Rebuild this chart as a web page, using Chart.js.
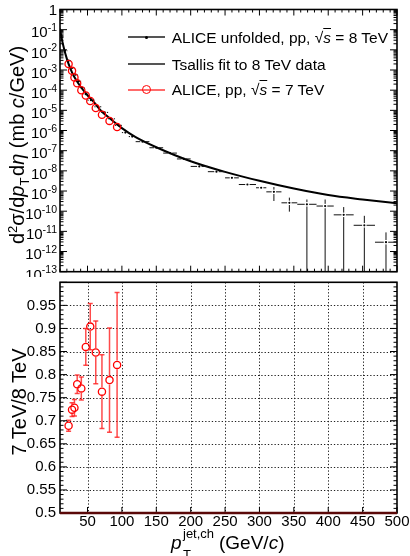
<!DOCTYPE html>
<html><head><meta charset="utf-8">
<script src="https://cdn.jsdelivr.net/npm/chart.js@4.4.0/dist/chart.umd.min.js"></script>
<style>
html,body{margin:0;padding:0;background:#fff;}
#wrap{position:relative;width:410px;height:556px;overflow:hidden;font-family:'Liberation Sans',Arial,Helvetica,sans-serif;color:#000;}
canvas{position:absolute;left:0;}
#c1{top:0;}
#c2{top:277px;}
.abs{position:absolute;white-space:nowrap;}
.lgt{font-size:15.5px;line-height:15.5px;}
.rot{transform:translate(-50%,-50%) rotate(-90deg);line-height:20px;}
.ov{text-decoration:overline;font-style:italic;}
</style></head>
<body><div id="wrap">
<canvas id="c1" width="410" height="277" style="width:410px;height:277px"></canvas>
<canvas id="c2" width="410" height="279" style="width:410px;height:279px"></canvas>

<!-- legend -->
<div class="abs" style="left:128px;top:36.3px;width:37px;height:2px;background:#555"></div>
<div class="abs" style="left:145px;top:35.8px;width:3px;height:3px;background:#000;border-radius:50%"></div>
<div class="abs lgt" style="left:171.7px;top:30.2px">ALICE unfolded, pp, √<span class="ov">s</span> = 8 TeV</div>
<div class="abs" style="left:128px;top:63px;width:37px;height:2px;background:#555"></div>
<div class="abs lgt" style="left:171.7px;top:56.6px">Tsallis fit to 8 TeV data</div>
<div class="abs" style="left:128px;top:89px;width:37px;height:2px;background:#ff6b6b"></div>
<div class="abs" style="left:141.6px;top:84.9px;width:7.4px;height:7.4px;border:1.3px solid #ff0000;border-radius:50%"></div>
<div class="abs lgt" style="left:171.7px;top:82.1px">ALICE, pp, √<span class="ov">s</span> = 7 TeV</div>

<!-- axis titles -->
<div class="abs rot" style="left:19px;top:145px;font-size:20px">d<sup style="font-size:13px;vertical-align:7px">2</sup>σ/d<i>p</i><sub style="font-size:13px;vertical-align:-5px">T</sub>&#8202;d<i>η</i> (mb <i>c</i>/GeV)</div>
<div class="abs rot" style="left:19px;top:402px;font-size:20px">7 TeV/8 TeV</div>
<div class="abs" style="left:171px;top:533px;font-size:19px;line-height:19px"><i>p</i></div>
<div class="abs" style="left:183px;top:527px;font-size:13px;line-height:13px">jet,ch</div>
<div class="abs" style="left:183px;top:548px;font-size:13px;line-height:13px">T</div>
<div class="abs" style="left:219px;top:533px;font-size:19px;line-height:19px">(GeV/<i>c</i>)</div>
</div>
<script>
// ---------------- data ----------------
// Tsallis fit curve
const tsallisPt  = [10, 12, 15, 20, 25, 30, 40, 50, 60, 70, 80, 100, 120, 150, 200, 250, 300, 350, 400, 450, 500];
const tsallisVal = [1.12e-1, 4.47e-2, 1.51e-2, 3.55e-3, 1.2e-3, 5.0e-4, 1.48e-4, 5.6e-5, 2.4e-5, 9.3e-6, 4.7e-6, 1.32e-6, 4.7e-7, 1.48e-7, 3.0e-8, 8.9e-9, 3.2e-9, 1.32e-9, 6.3e-10, 3.8e-10, 2.45e-10];

// ALICE unfolded 8 TeV spectrum
const pt8      = [12.5, 17.5, 22.5, 27.5, 32.5, 37.5, 42.5, 47.5, 55, 65, 75, 85, 95, 105, 115, 130, 150, 170, 190, 212.5, 237.5, 260, 282.5, 302.5, 321, 343.5, 369, 395.5, 422.5, 452.5, 484];
const binHalf8 = [2.5, 2.5, 2.5, 2.5, 2.5, 2.5, 2.5, 2.5, 5, 5, 5, 5, 5, 5, 5, 10, 10, 10, 10, 12.5, 12.5, 10, 12.5, 7.5, 11, 11.5, 14, 12.5, 14.5, 15.5, 16];
const val8     = [4.5e-2, 9e-3, 2.9e-3, 1.26e-3, 5.9e-4, 2.8e-4, 1.3e-4, 6.3e-5, 3.2e-5, 1.5e-5, 7.9e-6, 3.8e-6, 1.8e-6, 7.9e-7, 5.0e-7, 2.8e-7, 1.4e-7, 7.6e-8, 3.9e-8, 1.66e-8, 9.1e-9, 4.5e-9, 2.1e-9, 1.45e-9, 9.1e-10, 2.6e-10, 2.2e-10, 1.8e-10, 6.6e-11, 2.0e-11, 2.9e-12];
const errUp8   = [0, 0, 0, 0, 0, 0, 0, 0, 0, 0, 0, 0, 0, 0, 0, 0, 0, 0, 0, 0, 0, 0, 0, 0, 6.7e-10, 2.1e-10, 1.6e-10, 2.0e-10, 9.4e-11, 3.9e-11, 6.0e-12];
const errDown8 = [0, 0, 0, 0, 0, 0, 0, 0, 0, 0, 0, 0, 0, 0, 0, 0, 0, 0, 0, 0, 0, 0, 0, 0, 5.9e-10, 1.65e-10, 2.2e-10, 1.8e-10, 6.6e-11, 2.0e-11, 2.9e-12];

// ALICE 7 TeV spectrum and ratio 7/8 TeV
const pt7       = [22.5, 27.5, 31, 35, 41, 47.5, 54, 62, 71, 82, 93];
const val7      = [2.0e-3, 9.1e-4, 4.3e-4, 2.2e-4, 1.0e-4, 5.4e-5, 2.9e-5, 1.3e-5, 6.0e-6, 3.0e-6, 1.5e-6];
const ratio     = [0.689, 0.724, 0.728, 0.779, 0.770, 0.860, 0.904, 0.848, 0.763, 0.788, 0.821];
const ratioErr  = [0.012, 0.015, 0.018, 0.020, 0.025, 0.040, 0.050, 0.068, 0.080, 0.113, 0.157];

// ticks
const xTicks       = [50, 100, 150, 200, 250, 300, 350, 400, 450, 500];
const xTickLabels  = ['50', '100', '150', '200', '250', '300', '350', '400', '450', '500'];
const yLogTicks    = [1, 1e-1, 1e-2, 1e-3, 1e-4, 1e-5, 1e-6, 1e-7, 1e-8, 1e-9, 1e-10, 1e-11, 1e-12, 1e-13];
const yLogExp      = ['', '-1', '-2', '-3', '-4', '-5', '-6', '-7', '-8', '-9', '-10', '-11', '-12', '-13'];
const yLogLabels   = ['1', '10⁻¹', '10⁻²', '10⁻³', '10⁻⁴', '10⁻⁵', '10⁻⁶', '10⁻⁷', '10⁻⁸', '10⁻⁹', '10⁻¹⁰', '10⁻¹¹', '10⁻¹²', '10⁻¹³'];
const ratioTicks   = [0.5, 0.55, 0.6, 0.65, 0.7, 0.75, 0.8, 0.85, 0.9, 0.95];
const ratioLabels  = ['0.5', '0.55', '0.6', '0.65', '0.7', '0.75', '0.8', '0.85', '0.9', '0.95'];

const FONT = "'Liberation Sans', Arial, Helvetica, sans-serif";

// ---------------- plugins ----------------
function seg(ctx, x1, y1, x2, y2) { ctx.beginPath(); ctx.moveTo(x1, y1); ctx.lineTo(x2, y2); ctx.stroke(); }

const errPlugin = {
  id: 'errBars',
  afterDatasetsDraw(chart) {
    const { ctx, chartArea: a } = chart;
    const xs = chart.scales.x, ys = chart.scales.y;
    chart.data.datasets.forEach((ds) => {
      const e = ds.err;
      if (!e) return;
      ctx.save();
      ctx.beginPath(); ctx.rect(a.left, a.top, a.right - a.left, a.bottom - a.top); ctx.clip();
      ctx.strokeStyle = e.color; ctx.lineWidth = e.width;
      ds.data.forEach((p, j) => {
        const px = xs.getPixelForValue(p.x), py = ys.getPixelForValue(p.y);
        const g = e.gap;
        if (e.xHalf) {
          const xl = xs.getPixelForValue(p.x - e.xHalf[j]), xr = xs.getPixelForValue(p.x + e.xHalf[j]);
          seg(ctx, xl, py, px - g, py); seg(ctx, px + g, py, xr, py);
        }
        if (e.up && e.up[j] > 0) {
          const pu = ys.getPixelForValue(p.y + e.up[j]);
          if (py - pu > g) seg(ctx, px, py - g, px, pu);
          if (e.cap) seg(ctx, px - e.cap, pu, px + e.cap, pu);
        }
        if (e.down && e.down[j] > 0) {
          const lo = p.y - e.down[j];
          const pd = (lo <= ys.min) ? a.bottom : ys.getPixelForValue(lo);
          if (pd - py > g) seg(ctx, px, py + g, px, pd);
          if (e.cap && lo > ys.min) seg(ctx, px - e.cap, pd, px + e.cap, pd);
        }
      });
      ctx.restore();
    });
  }
};

const framePlugin = {
  id: 'rootFrame',
  beforeDatasetsDraw(chart, args, o) {
    if (!o.grid) return;
    const { ctx, chartArea: a, scales } = chart;
    ctx.save();
    ctx.strokeStyle = '#222'; ctx.lineWidth = 1; ctx.setLineDash([1.3, 2]);
    scales.x.ticks.forEach(t => { const px = Math.round(scales.x.getPixelForValue(t.value)) + 0.5; if (px < a.right - 1) seg(ctx, px, a.top, px, a.bottom); });
    scales.y.ticks.forEach(t => { const py = Math.round(scales.y.getPixelForValue(t.value)) + 0.5; if (py < a.bottom - 1) seg(ctx, a.left, py, a.right, py); });
    ctx.restore();
  },
  afterDraw(chart, args, o) {
    const { ctx, chartArea: a, scales } = chart;
    const xs = scales.x, ys = scales.y;
    ctx.save();
    ctx.strokeStyle = '#000'; ctx.lineWidth = 1;
    // x ticks
    for (let v = 10; v <= 500.001; v += 10) {
      const major = Math.abs(v % 50) < 1e-6;
      if (!major && !o.xMinor) continue;
      const L = major ? 6 : 3;
      const px = xs.getPixelForValue(v);
      if (o.xBottom) seg(ctx, px, a.bottom, px, a.bottom - L);
      if (o.xTop) seg(ctx, px, a.top, px, a.top + L);
    }
    // y ticks
    const yt = [];
    if (o.log) {
      for (let e = -13; e <= 0; e++) {
        yt.push([Math.pow(10, e), true]);
        if (e < 0) for (let k = 2; k <= 9; k++) yt.push([k * Math.pow(10, e), false]);
      }
    } else {
      for (let i = 0; i <= 50; i++) yt.push([0.5 + i * 0.01, i % 5 === 0]);
    }
    yt.forEach(([v, major]) => {
      const py = ys.getPixelForValue(v);
      if (py < a.top - 0.5 || py > a.bottom + 0.5) return;
      const L = major ? 7 : 3.5;
      seg(ctx, a.left, py, a.left + L, py);
      seg(ctx, a.right, py, a.right - L, py);
    });
    // power-of-ten tick labels with raised exponent
    if (o.log) {
      ctx.fillStyle = '#000';
      ctx.textAlign = 'right'; ctx.textBaseline = 'alphabetic';
      ys.ticks.forEach(t => {
        const i = yLogTicks.findIndex(v => Math.abs(Math.log10(v) - Math.log10(t.value)) < 1e-6);
        if (i < 0) return;
        const py = ys.getPixelForValue(t.value);
        const xr = a.left - 3;
        const ex = yLogExp[i];
        if (!ex) { ctx.font = '15px ' + FONT; ctx.fillText('1', xr, py + 5.4); return; }
        ctx.font = '10.5px ' + FONT;
        const w = ctx.measureText(ex).width;
        ctx.fillText(ex, xr, py + 1.6);
        ctx.font = '15px ' + FONT;
        ctx.fillText('10', xr - w, py + 7.8);
      });
    }
    // frame
    ctx.lineWidth = 1.6;
    ctx.strokeRect(a.left, a.top, a.right - a.left, a.bottom - a.top);
    if (o.bottomColor) { ctx.strokeStyle = o.bottomColor; ctx.lineWidth = 2.5; seg(ctx, a.left, a.bottom, a.right, a.bottom); }
    ctx.restore();
  }
};

Chart.defaults.font.family = FONT;
Chart.defaults.color = '#000';

function fixY(width) { return s => { s.width = width; s.paddingTop = 0; s.paddingBottom = 0; s.paddingLeft = 0; s.paddingRight = 0; }; }

// ---------------- top chart ----------------
new Chart(document.getElementById('c1'), {
  type: 'scatter',
  data: {
    datasets: [
      {
        label: 'ALICE, pp, √s = 7 TeV',
        data: pt7.map((x, i) => ({ x, y: val7[i] })),
        pointStyle: 'circle', pointRadius: 3.6, borderColor: '#ff0000', backgroundColor: 'rgba(0,0,0,0)', borderWidth: 1.3
      },
      {
        label: 'ALICE unfolded, pp, √s = 8 TeV',
        data: pt8.map((x, i) => ({ x, y: val8[i] })),
        pointStyle: 'circle', pointRadius: 1.1, borderWidth: 0, backgroundColor: '#000',
        err: { xHalf: binHalf8, up: errUp8, down: errDown8, color: '#111', width: 1, gap: 2.2, cap: 0 }
      },
      {
        type: 'line',
        label: 'Tsallis fit to 8 TeV data',
        data: tsallisPt.map((x, i) => ({ x, y: tsallisVal[i] })),
        borderColor: '#000', borderWidth: 2, pointRadius: 0, fill: false, cubicInterpolationMode: 'monotone'
      }
    ]
  },
  options: {
    responsive: false, animation: false, events: [],
    layout: { padding: { left: 0, right: 13, top: 9.5, bottom: 1.5 } },
    plugins: { legend: { display: false }, tooltip: { enabled: false },
      rootFrame: { log: true, xMinor: true, xTop: true, xBottom: true } },
    scales: {
      x: { type: 'linear', min: 10, max: 500, display: false },
      y: {
        type: 'logarithmic', min: 1e-13, max: 1,
        afterBuildTicks: s => { s.ticks = yLogTicks.map(v => ({ value: v, major: true })); },
        afterFit: fixY(60),
        grid: { display: false, drawTicks: false }, border: { display: false },
        ticks: { display: false, autoSkip: false, padding: 4, font: { size: 15 },
          callback: (v) => { const i = yLogTicks.findIndex(t => Math.abs(Math.log10(t) - Math.log10(v)) < 1e-6); return i >= 0 ? yLogLabels[i] : ''; } }
      }
    }
  },
  plugins: [framePlugin, errPlugin]
});

// ---------------- bottom chart ----------------
new Chart(document.getElementById('c2'), {
  type: 'scatter',
  data: {
    datasets: [
      {
        label: '7 TeV/8 TeV',
        data: pt7.map((x, i) => ({ x, y: ratio[i] })),
        pointStyle: 'circle', pointRadius: 3.6, borderColor: '#ff0000', backgroundColor: 'rgba(0,0,0,0)', borderWidth: 1.3,
        err: { up: ratioErr, down: ratioErr, color: 'rgba(255,30,30,0.8)', width: 1.5, gap: 4.3, cap: 2.5 }
      }
    ]
  },
  options: {
    responsive: false, animation: false, events: [],
    layout: { padding: { left: 0, right: 13, top: 1, bottom: 0 } },
    plugins: { legend: { display: false }, tooltip: { enabled: false },
      rootFrame: { log: false, xMinor: false, xTop: false, xBottom: true, grid: true, bottomColor: '#5a0808' } },
    scales: {
      x: {
        type: 'linear', min: 10, max: 500,
        afterBuildTicks: s => { s.ticks = xTicks.map(v => ({ value: v })); },
        afterFit: s => { s.height = 43; s.paddingLeft = 0; s.paddingRight = 0; s.paddingTop = 0; s.paddingBottom = 0; },
        grid: { display: false, drawTicks: false }, border: { display: false },
        ticks: { autoSkip: false, maxRotation: 0, minRotation: 0, padding: 0, font: { size: 15 },
          callback: (v) => { const i = xTicks.indexOf(v); return i >= 0 ? xTickLabels[i] : ''; } }
      },
      y: {
        type: 'linear', min: 0.5, max: 1.0,
        afterBuildTicks: s => { s.ticks = ratioTicks.map(v => ({ value: v })); },
        afterFit: fixY(60),
        grid: { display: false, drawTicks: false }, border: { display: false },
        ticks: { autoSkip: false, padding: 4, font: { size: 15 },
          callback: (v) => { const i = ratioTicks.findIndex(t => Math.abs(t - v) < 1e-6); return i >= 0 ? ratioLabels[i] : ''; } }
      }
    }
  },
  plugins: [framePlugin, errPlugin]
});
</script>
</body></html>
